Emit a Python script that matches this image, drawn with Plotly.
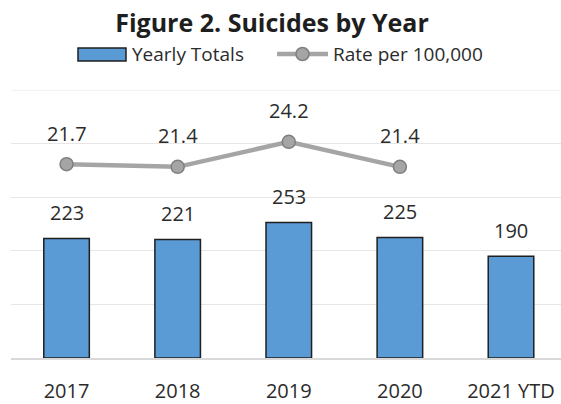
import plotly.graph_objects as go

# Chart data
years = ["2017", "2018", "2019", "2020", "2021 YTD"]
yearly_totals = [223, 221, 253, 225, 190]
rate_years = ["2017", "2018", "2019", "2020"]
rate_per_100k = [21.7, 21.4, 24.2, 21.4]

W, H = 561, 404
M_L, M_R, M_T, M_B = 11, 0, 90, 46
FONT = "Open Sans"
TXT = "#2B2B2B"

BAR_FILL = "#5B9BD5"
BAR_EDGE = "#1F1F1F"
LINE_C = "#A5A5A5"
MARK_EDGE = "#7F7F7F"
GRID = "#E6E6E6"

# category positions on the x axis
bar_pos = list(range(len(years)))
rate_pos = [years.index(y) for y in rate_years]

fig = go.Figure()

fig.add_trace(go.Bar(
    x=bar_pos, y=yearly_totals, name="Yearly Totals",
    marker=dict(color=BAR_FILL, line=dict(color=BAR_EDGE, width=1.5)),
    width=0.41, yaxis="y",
))
fig.add_trace(go.Scatter(
    x=rate_pos, y=rate_per_100k, name="Rate per 100,000",
    mode="lines+markers",
    line=dict(color=LINE_C, width=4.5),
    marker=dict(size=13, color=LINE_C, line=dict(color=MARK_EDGE, width=1.5)),
    yaxis="y2",
))

annotations = []
# value labels over the bars
for xp, v in zip(bar_pos, yearly_totals):
    annotations.append(dict(x=xp, y=v, xref="x", yref="y", text=str(v),
                            showarrow=False, yanchor="middle", yshift=26,
                            font=dict(family=FONT, size=20, color=TXT)))
# value labels over the rate markers
for xp, v in zip(rate_pos, rate_per_100k):
    annotations.append(dict(x=xp, y=v, xref="x", yref="y2", text=f"{v:.1f}",
                            showarrow=False, yanchor="middle", yshift=31,
                            font=dict(family=FONT, size=20, color=TXT)))

# legend drawn in paper space (pixel helpers)
pw = W - M_L - M_R
ph = H - M_T - M_B


def px_x(p):
    return (p - M_L) / pw


def px_y(p):
    return (H - M_B - p) / ph


LEG_Y = 54
shapes = [
    # top gridline at the axis maximum
    dict(type="line", xref="paper", yref="y", x0=0, x1=1, y0=500, y1=500,
         line=dict(color=GRID, width=1.2), layer="below"),
    dict(type="rect", xref="paper", yref="paper",
         x0=px_x(78), x1=px_x(126), y0=px_y(61), y1=px_y(48),
         fillcolor=BAR_FILL, line=dict(color=BAR_EDGE, width=1.5)),
    dict(type="line", xref="paper", yref="paper",
         x0=px_x(277), x1=px_x(328), y0=px_y(LEG_Y), y1=px_y(LEG_Y),
         line=dict(color=LINE_C, width=4.5)),
    dict(type="circle", xref="paper", yref="paper",
         x0=px_x(296), x1=px_x(309), y0=px_y(LEG_Y + 6.5), y1=px_y(LEG_Y - 6.5),
         fillcolor=LINE_C, line=dict(color=MARK_EDGE, width=1.5)),
]
annotations.append(dict(x=px_x(130), y=px_y(LEG_Y), xref="paper", yref="paper",
                        text="Yearly Totals", showarrow=False, xanchor="left",
                        yanchor="middle", font=dict(family=FONT, size=19, color=TXT)))
annotations.append(dict(x=px_x(331), y=px_y(LEG_Y), xref="paper", yref="paper",
                        text="Rate per 100,000", showarrow=False, xanchor="left",
                        yanchor="middle", font=dict(family=FONT, size=19, color=TXT)))

fig.update_layout(
    width=W, height=H, autosize=False,
    margin=dict(l=M_L, r=M_R, t=M_T, b=M_B, pad=0),
    paper_bgcolor="white", plot_bgcolor="white",
    showlegend=False,
    title=dict(text="<b>Figure 2. Suicides by Year</b>", x=272 / W, xanchor="center",
               y=1 - 23 / H, yanchor="middle", yref="container",
               font=dict(family=FONT, size=25, color="#1E1E1E")),
    xaxis=dict(range=[-0.5, 4.45], showgrid=False, zeroline=False,
               tickmode="array", tickvals=bar_pos, ticktext=years,
               showline=True, linecolor="#D9D9D9", linewidth=1.5,
               ticks="", ticklabelstandoff=14,
               tickfont=dict(family=FONT, size=20, color=TXT)),
    yaxis=dict(range=[0, 500], dtick=100, showgrid=True, gridcolor=GRID,
               gridwidth=1.2, showticklabels=False, zeroline=False),
    yaxis2=dict(range=[0, 30], overlaying="y", side="right", showgrid=False,
                showticklabels=False, zeroline=False, visible=False),
    annotations=annotations,
    shapes=shapes,
)

fig.write_html("out.html")
